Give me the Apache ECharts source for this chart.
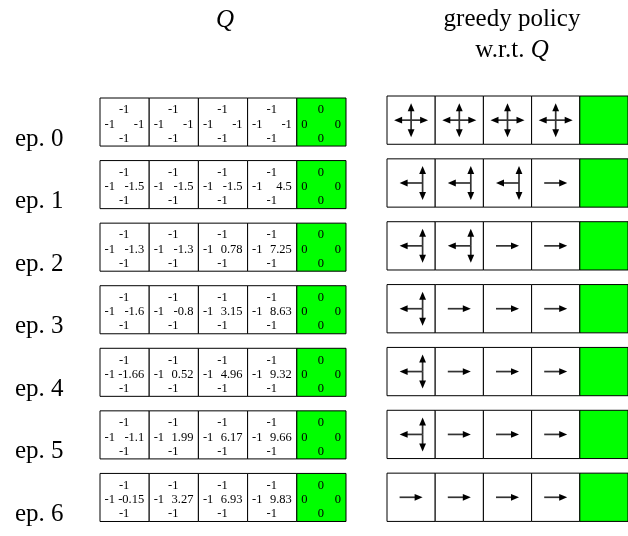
<!DOCTYPE html>
<html>
<head>
<meta charset="utf-8">
<script src="https://cdn.jsdelivr.net/npm/echarts@6/dist/echarts.min.js"></script>
<style>html,body{margin:0;padding:0;background:#fff;}#c{width:628px;height:536px;}</style>
</head>
<body>
<div id="c"></div>
<script>
// ---- data ----
const episodes = ['ep. 0', 'ep. 1', 'ep. 2', 'ep. 3', 'ep. 4', 'ep. 5', 'ep. 6'];
// Q values for the 4 non-terminal states, per episode (rows) and state (columns)
const qUp = [
  [-1, -1, -1, -1], [-1, -1, -1, -1], [-1, -1, -1, -1], [-1, -1, -1, -1],
  [-1, -1, -1, -1], [-1, -1, -1, -1], [-1, -1, -1, -1]
];
const qLeft = [
  [-1, -1, -1, -1], [-1, -1, -1, -1], [-1, -1, -1, -1], [-1, -1, -1, -1],
  [-1, -1, -1, -1], [-1, -1, -1, -1], [-1, -1, -1, -1]
];
const qRight = [
  [-1, -1, -1, -1],
  [-1.5, -1.5, -1.5, 4.5],
  [-1.3, -1.3, 0.78, 7.25],
  [-1.6, -0.8, 3.15, 8.63],
  [-1.66, 0.52, 4.96, 9.32],
  [-1.1, 1.99, 6.17, 9.66],
  [-0.15, 3.27, 6.93, 9.83]
];
const qDown = [
  [-1, -1, -1, -1], [-1, -1, -1, -1], [-1, -1, -1, -1], [-1, -1, -1, -1],
  [-1, -1, -1, -1], [-1, -1, -1, -1], [-1, -1, -1, -1]
];
const qTerminal = [0, 0, 0, 0]; // up, left, right, down
const qTitle = 'Q';
const policyTitle1 = 'greedy policy';
const policyTitle2 = 'w.r.t. ';

// ---- layout / style ----
const FONT = "'Liberation Serif', 'DejaVu Serif', serif";
const PITCH = 63.8;
const CELL_H = 49 / PITCH;
const GREEN = '#00ff00';
const NSTATES = 5;

const cells = [];
for (let r = 0; r < episodes.length; r++) for (let c = 0; c < NSTATES; c++) cells.push([c, r]);

function qValues(row, col) {
  if (col === NSTATES - 1) return qTerminal;
  return [qUp[row][col], qLeft[row][col], qRight[row][col], qDown[row][col]];
}
function greedy(vals) {
  const m = Math.max.apply(null, vals);
  return vals.map(v => Math.abs(v - m) < 1e-9);
}
function txt(x, y, s, align, size, italic) {
  return { type: 'text', style: { x: x, y: y, text: s, align: align, verticalAlign: 'middle',
    font: (italic ? 'italic ' : '') + (size || 12.5) + 'px ' + FONT, fill: '#000' } };
}

function renderQ(params, api) {
  const col = api.value(0), row = api.value(1);
  const p0 = api.coord([col, row]);
  const p1 = api.coord([col + 1, row + CELL_H]);
  const x0 = p0[0], y0 = p0[1], w = p1[0] - p0[0], h = p1[1] - p0[1];
  const term = col === NSTATES - 1;
  const v = qValues(row, col);
  const children = [
    { type: 'rect', shape: { x: x0, y: y0, width: w, height: h },
      style: { fill: term ? GREEN : '#fff', stroke: '#000', lineWidth: 1 } },
    txt(x0 + w / 2 - 0.5, y0 + 12, String(v[0]), 'center'),
    txt(x0 + 4.5, y0 + 26.5, String(v[1]), 'left'),
    txt(x0 + w - 5, y0 + 26.5, String(v[2]), 'right'),
    txt(x0 + w / 2 - 0.5, y0 + 40.5, String(v[3]), 'center')
  ];
  if (col === 0) children.push(txt(x0 - 85, y0 + h - 7, episodes[row], 'left', 25));
  return { type: 'group', children: children };
}

function arrowHead(tx, ty, dx, dy) {
  const L = 8, W = 3.4;
  const bx = tx - dx * L, by = ty - dy * L;
  const px = -dy * W, py = dx * W;
  return { type: 'polygon', shape: { points: [[tx, ty], [bx + px, by + py], [bx - px, by - py]] },
    style: { fill: '#000' } };
}
function lineEl(x1, y1, x2, y2) {
  return { type: 'line', shape: { x1: x1, y1: y1, x2: x2, y2: y2 },
    style: { stroke: '#333', lineWidth: 1.7 } };
}

function renderPolicy(params, api) {
  const col = api.value(0), row = api.value(1);
  const p0 = api.coord([col, row]);
  const p1 = api.coord([col + 1, row + CELL_H]);
  const x0 = p0[0], y0 = p0[1], w = p1[0] - p0[0], h = p1[1] - p0[1];
  const term = col === NSTATES - 1;
  const children = [
    { type: 'rect', shape: { x: x0, y: y0, width: w, height: h },
      style: { fill: term ? GREEN : '#fff', stroke: '#000', lineWidth: 1 } }
  ];
  if (!term) {
    const g = greedy(qValues(row, col)); // up, left, right, down
    const cx = x0 + w / 2, cy = y0 + h / 2;
    const U = g[0], Lf = g[1], R = g[2], D = g[3];
    const HALF = 17, SOLO = 11.5;
    let ax = cx, ay = cy;
    if (Lf && !R) ax = cx + SOLO;
    if (R && !Lf) ax = cx - SOLO;
    if (U && !D) ay = cy + SOLO;
    if (D && !U) ay = cy - SOLO;
    const hl = (Lf && R) ? HALF : 2 * SOLO;
    const vl = (U && D) ? HALF : 2 * SOLO;
    if (Lf) { children.push(lineEl(ax, ay, ax - hl + 4, ay)); children.push(arrowHead(ax - hl, ay, -1, 0)); }
    if (R) { children.push(lineEl(ax, ay, ax + hl - 4, ay)); children.push(arrowHead(ax + hl, ay, 1, 0)); }
    if (U) { children.push(lineEl(ax, ay, ax, ay - vl + 4)); children.push(arrowHead(ax, ay - vl, 0, -1)); }
    if (D) { children.push(lineEl(ax, ay, ax, ay + vl - 4)); children.push(arrowHead(ax, ay + vl, 0, 1)); }
  }
  return { type: 'group', children: children };
}

const chart = echarts.init(document.getElementById('c'), null, { renderer: 'canvas' });
chart.setOption({
  animation: false,
  backgroundColor: '#fff',
  grid: [
    { left: 100, top: 98, width: 246, height: 7 * PITCH },
    { left: 387, top: 96, width: 246, height: 7 * PITCH }
  ],
  xAxis: [
    { type: 'value', gridIndex: 0, min: 0, max: NSTATES, show: false },
    { type: 'value', gridIndex: 1, min: 0, max: NSTATES, show: false }
  ],
  yAxis: [
    { type: 'value', gridIndex: 0, min: 0, max: episodes.length, inverse: true, show: false },
    { type: 'value', gridIndex: 1, min: 0, max: episodes.length, inverse: true, show: false }
  ],
  graphic: [
    { type: 'text', x: 225, y: 20, style: { text: qTitle, align: 'center', verticalAlign: 'middle',
      font: 'italic 25px ' + FONT, fill: '#000' } },
    { type: 'text', x: 512, y: 19, style: { text: policyTitle1, align: 'center', verticalAlign: 'middle',
      font: '25px ' + FONT, fill: '#000' } },
    { type: 'text', x: 512, y: 50, style: { text: '{n|' + policyTitle2 + '}{i|' + qTitle + '}',
      align: 'center', verticalAlign: 'middle',
      rich: { n: { fontFamily: FONT, fontSize: 25, color: '#000' },
              i: { fontFamily: FONT, fontSize: 25, fontStyle: 'italic', color: '#000' } } } }
  ],
  series: [
    { type: 'custom', xAxisIndex: 0, yAxisIndex: 0, data: cells, renderItem: renderQ, clip: false },
    { type: 'custom', xAxisIndex: 1, yAxisIndex: 1, data: cells, renderItem: renderPolicy, clip: false }
  ]
});
</script>
</body>
</html>
